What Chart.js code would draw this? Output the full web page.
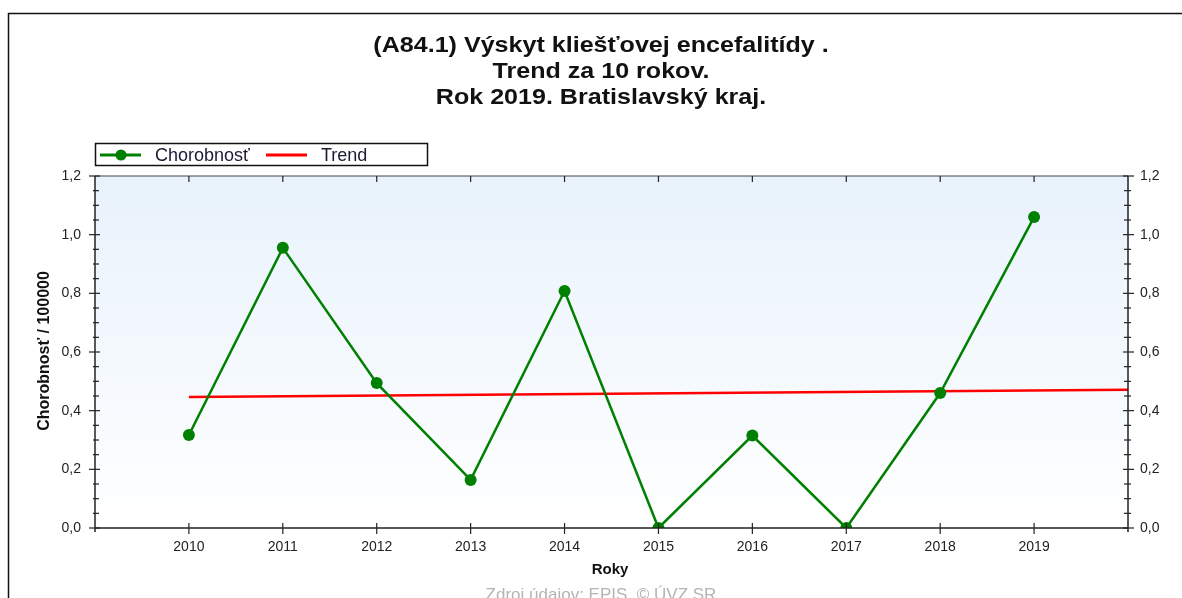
<!DOCTYPE html>
<html><head><meta charset="utf-8">
<script src="https://cdn.jsdelivr.net/npm/chart.js@4/dist/chart.umd.min.js"></script>
<style>html,body{margin:0;padding:0;background:#fff;overflow:hidden}#wrap{width:1182px;height:598px;position:relative}</style>
</head><body><div id="wrap"><canvas id="c" width="1182" height="598"></canvas></div>
<script>
const titleLines = ["(A84.1) Výskyt kliešťovej encefalitídy .", "Trend za 10 rokov.", "Rok 2019. Bratislavský kraj."];
const years = [2010, 2011, 2012, 2013, 2014, 2015, 2016, 2017, 2018, 2019];
const chorobnost = [0.317, 0.955, 0.494, 0.164, 0.808, 0, 0.315, 0, 0.46, 1.06];
const trendYears = [2010, 2020];
const trendValues = [0.447, 0.471];
const yTicks = [0, 0.2, 0.4, 0.6, 0.8, 1.0, 1.2];
const seriesNames = ["Chorobnosť", "Trend"];
const xTitle = "Roky";
const yTitle = "Chorobnosť / 100000";
const sourceText = "Zdroj údajov: EPIS, © ÚVZ SR";

const FONT = "'Liberation Sans', Arial, sans-serif";
const fmt = v => Number(v).toFixed(1).replace('.', ',');

const framePlugin = {
  id: 'frame',
  beforeDraw(chart) {
    const { ctx, chartArea: a } = chart;
    ctx.save();
    ctx.fillStyle = '#fff';
    ctx.fillRect(0, 0, chart.width, chart.height);
    ctx.strokeStyle = '#111';
    ctx.lineWidth = 1.5;
    ctx.strokeRect(8.5, 13.5, 1400, 800);
    const g = ctx.createLinearGradient(0, a.top, 0, a.bottom);
    g.addColorStop(0, '#e8f2fc');
    g.addColorStop(1, '#ffffff');
    ctx.fillStyle = g;
    ctx.fillRect(a.left, a.top, a.right - a.left, a.bottom - a.top);
    ctx.restore();
  },
  afterDraw(chart) {
    const { ctx, chartArea: a, scales } = chart;
    const xs = scales.x, ys = scales.y;
    ctx.save();
    const seg = (x1, y1, x2, y2) => { ctx.beginPath(); ctx.moveTo(x1, y1); ctx.lineTo(x2, y2); ctx.stroke(); };
    ctx.strokeStyle = '#444'; ctx.lineWidth = 1.2;
    seg(a.left, a.top, a.right, a.top);
    ctx.strokeStyle = '#222'; ctx.lineWidth = 1.5;
    seg(a.left, a.top, a.left, a.bottom + 4);
    seg(a.right, a.top, a.right, a.bottom + 4);
    seg(a.left, a.bottom, a.right, a.bottom);
    ctx.lineWidth = 1.2;
    for (let i = 0; i < yTicks.length; i++) {
      const py = ys.getPixelForValue(yTicks[i]);
      seg(a.left - 6, py, a.left + 5, py);
      seg(a.right - 5, py, a.right + 6, py);
      if (i < yTicks.length - 1) {
        const step = (yTicks[i + 1] - yTicks[i]) / 4;
        for (let k = 1; k < 4; k++) {
          const my = ys.getPixelForValue(yTicks[i] + k * step);
          seg(a.left - 2, my, a.left + 4, my);
          seg(a.right - 4, my, a.right + 3, my);
        }
      }
    }
    years.forEach(yr => {
      const px = xs.getPixelForValue(yr);
      seg(px, a.bottom - 5, px, a.bottom + 6);
      seg(px, a.top, px, a.top + 6);
    });
    ctx.fillStyle = '#111';
    ctx.textAlign = 'center';
    ctx.textBaseline = 'middle';
    ctx.font = 'bold 22px ' + FONT;
    titleLines.forEach((t, i) => {
      ctx.save();
      ctx.translate(601, 46 + i * 26);
      ctx.scale(1.14, 1);
      ctx.fillText(t, 0, 0);
      ctx.restore();
    });
    ctx.font = 'bold 15px ' + FONT;
    ctx.fillText(xTitle, 610, 570);
    ctx.save();
    ctx.translate(45, 351);
    ctx.rotate(-Math.PI / 2);
    ctx.font = 'bold 16px ' + FONT;
    ctx.fillText(yTitle, 0, 0);
    ctx.restore();
    ctx.fillStyle = '#b4b4b4';
    ctx.font = '17px ' + FONT;
    ctx.textBaseline = 'top';
    ctx.fillText(sourceText, 601, 587);
    ctx.fillStyle = '#fff';
    ctx.fillRect(95, 143, 332, 23);
    ctx.strokeStyle = '#111'; ctx.lineWidth = 1.5;
    ctx.strokeRect(95.5, 143.5, 332, 22);
    const ly = 155;
    ctx.strokeStyle = '#008000'; ctx.lineWidth = 3;
    seg(100, ly, 141, ly);
    ctx.fillStyle = '#008000';
    ctx.beginPath(); ctx.arc(121, ly, 5.5, 0, Math.PI * 2); ctx.fill();
    ctx.strokeStyle = '#ff0000';
    seg(266, ly, 307, ly);
    ctx.fillStyle = '#1a1a33';
    ctx.font = '18px ' + FONT;
    ctx.textAlign = 'left';
    ctx.textBaseline = 'middle';
    ctx.fillText(seriesNames[0], 155, ly + 1);
    ctx.fillText(seriesNames[1], 321, ly + 1);
    ctx.restore();
  }
};

const tickFont = { family: FONT, size: 14 };
const yScale = (pos, w, pad) => ({
  type: 'linear', position: pos, min: 0, max: 1.2,
  afterBuildTicks(s) { s.ticks = yTicks.map(v => ({ value: v })); },
  afterFit(s) { s.width = w; },
  grid: { display: false, drawTicks: false }, border: { display: false },
  ticks: { padding: pad, color: '#222', font: tickFont, callback: fmt, autoSkip: false }
});

new Chart(document.getElementById('c'), {
  type: 'line',
  data: {
    datasets: [
      {
        label: seriesNames[0],
        data: years.map((yr, i) => ({ x: yr, y: chorobnost[i] })),
        borderColor: '#008000', backgroundColor: '#008000',
        borderWidth: 2.5, pointRadius: 6, pointHoverRadius: 6, pointBorderWidth: 0,
        tension: 0, order: 0, clip: { left: 10, right: 10, top: 10, bottom: 0 }
      },
      {
        label: seriesNames[1],
        data: trendYears.map((yr, i) => ({ x: yr, y: trendValues[i] })),
        borderColor: '#ff0000', backgroundColor: '#ff0000',
        borderWidth: 2.5, pointRadius: 0, tension: 0, order: 1
      }
    ]
  },
  options: {
    responsive: false, animation: false, events: [],
    layout: { padding: { top: 176, left: 0, right: 0, bottom: 0 } },
    plugins: { legend: { display: false }, title: { display: false }, tooltip: { enabled: false } },
    scales: {
      x: {
        type: 'linear', min: 2009, max: 2020,
        afterBuildTicks(s) { s.ticks = years.map(v => ({ value: v })); },
        afterFit(s) { s.height = 70; },
        grid: { display: false, drawTicks: false }, border: { display: false },
        ticks: { padding: 11, color: '#222', font: tickFont, callback: v => String(v), autoSkip: false, maxRotation: 0 }
      },
      y: yScale('left', 95, 14),
      y2: yScale('right', 54, 12)
    }
  },
  plugins: [framePlugin]
});
</script>
</body></html>
